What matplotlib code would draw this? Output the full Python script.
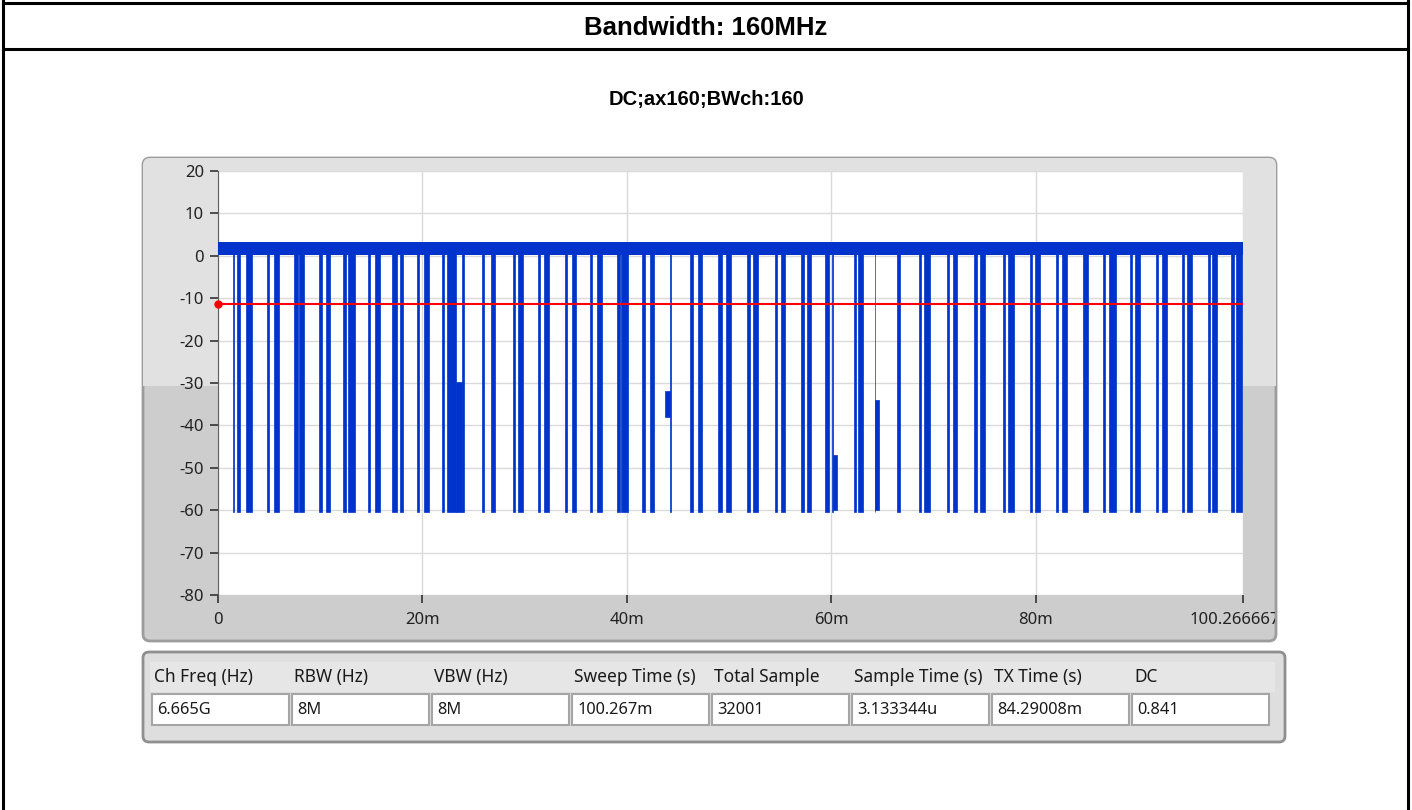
import matplotlib
matplotlib.use("Agg")
import matplotlib.pyplot as plt
from matplotlib.patches import FancyBboxPatch, Rectangle
from matplotlib.lines import Line2D
from matplotlib.transforms import Bbox, TransformedBbox, IdentityTransform

plt.rcParams["axes.unicode_minus"] = False

W, H = 1412, 810

page_title = "Bandwidth: 160MHz"
graph_title = "DC;ax160;BWch:160"

# trace, time in ms, level in dB
sweep_ms = 100.266667
threshold_db = -11.3
on_low, on_high = 0.2, 3.3
floor_db = -60.5

# bursts off: full drop to the noise floor
gap_start = [1.42, 1.83, 2.71, 4.76, 5.51, 7.47, 7.96, 9.88, 10.54, 12.26, 12.75, 14.71, 15.36,
             17.06, 17.81, 19.50, 20.16, 21.95, 22.41, 23.90, 25.80, 26.68, 28.90, 29.32, 31.28,
             31.93, 33.95, 34.67, 36.40, 37.05, 39.00, 39.40, 41.52, 42.27, 44.20, 46.18, 46.93,
             48.95, 49.70, 51.73, 52.38, 54.44, 55.09, 57.05, 57.66, 59.39, 60.05, 62.17, 62.65,
             64.22, 66.40, 68.60, 69.10, 71.30, 71.85, 74.00, 74.50, 76.80, 77.30, 79.40, 79.90,
             82.00, 82.55, 84.60, 86.60, 87.20, 89.20, 89.70, 91.80, 92.30, 94.30, 94.80, 96.80,
             97.20, 99.10, 99.60]
gap_end = [1.59, 2.18, 3.30, 4.99, 6.00, 7.80, 8.38, 10.21, 10.96, 12.49, 13.41, 14.91, 15.85,
           17.48, 18.13, 19.70, 20.68, 22.14, 23.30, 24.02, 26.00, 27.10, 29.06, 29.87, 31.54,
           32.39, 34.15, 35.00, 36.56, 37.54, 39.33, 40.09, 41.78, 42.69, 44.35, 46.50, 47.31,
           49.28, 50.20, 52.05, 52.81, 54.73, 55.48, 57.37, 58.02, 59.78, 60.15, 62.40, 63.14,
           64.30, 66.73, 68.80, 69.60, 71.50, 72.30, 74.20, 75.00, 77.00, 77.90, 79.60, 80.40,
           82.20, 83.05, 85.15, 86.80, 87.80, 89.40, 90.20, 92.00, 92.80, 94.50, 95.30, 97.00,
           97.70, 99.35, 100.20]

# partial drops
part_start = [23.30, 43.70, 60.15, 64.30]
part_end = [23.90, 44.20, 60.55, 64.70]
part_top = [-29.7, -32.0, -47.0, -34.0]
part_bottom = [-60.5, -38.0, -60.0, -60.0]

x_ticks = [0, 20, 40, 60, 80, 100.266667]
x_tick_labels = ["0", "20m", "40m", "60m", "80m", "100.266667m"]
y_ticks = list(range(-80, 21, 10))

info_labels = ["Ch Freq (Hz)", "RBW (Hz)", "VBW (Hz)", "Sweep Time (s)", "Total Sample",
               "Sample Time (s)", "TX Time (s)", "DC"]
info_values = ["6.665G", "8M", "8M", "100.267m", "32001", "3.133344u", "84.29008m", "0.841"]

blue = "#0033cc"
ui_font = ["Noto Sans", "DejaVu Sans"]

fig = plt.figure(figsize=(W / 100, H / 100), dpi=100)
fig.patch.set_facecolor("white")
px = IdentityTransform()


def box(x0, y0, x1, y1, **kw):
    # pixel coords from top-left
    kw.setdefault("transform", px)
    return Rectangle((x0, H - y1), x1 - x0, y1 - y0, **kw)


def rbox(x0, y0, x1, y1, r, **kw):
    return FancyBboxPatch((x0, H - y1), x1 - x0, y1 - y0,
                          boxstyle=f"round,pad=0,rounding_size={r}", transform=px, **kw)


# page frame
for line in [((3, 3), (0, H)), ((1408, 1408), (0, H)), ((3, 1408), (H - 3, H - 3)),
             ((3, 1408), (H - 49, H - 49))]:
    fig.add_artist(Line2D(line[0], line[1], transform=px, color="black", lw=2.2))

fig.text(0.5, 1 - 28 / H, page_title, ha="center", va="center", fontsize=18.5,
         fontweight="bold", family="Liberation Sans")
fig.text(0.5, 1 - 100 / H, graph_title, ha="center", va="center", fontsize=14.5,
         fontweight="bold", family="Liberation Sans")

# graph panel
panel = rbox(143, 158, 1276, 641, 7, facecolor="#cdcdcd", edgecolor="#9c9c9c", lw=2, zorder=-5)
fig.add_artist(panel)
upper = box(143, 158, 1276, 386, facecolor="#e1e1e1", lw=0, zorder=-4)
fig.add_artist(upper)
upper.set_clip_path(panel)

ax = fig.add_axes([218 / W, 1 - 595 / H, (1243 - 218) / W, (595 - 171) / H], zorder=1)
ax.set_facecolor("white")
ax.set_xlim(0, sweep_ms)
ax.set_ylim(-80, 20)
for s in ["top", "right", "bottom"]:
    ax.spines[s].set_visible(False)
ax.spines["left"].set_color("#606060")
ax.grid(True, color="#dadada", lw=1)
ax.set_axisbelow(True)

ax.set_yticks(y_ticks)
ax.set_xticks(x_ticks)
ax.set_xticklabels(x_tick_labels)
ax.tick_params(axis="y", length=6, width=1.2, color="#333333", pad=4, labelsize=12,
               labelcolor="#222222")
ax.tick_params(axis="x", length=6, width=1.2, color="#333333", pad=6, labelsize=12,
               labelcolor="#222222")
for lbl in ax.get_xticklabels() + ax.get_yticklabels():
    lbl.set_family(ui_font)

# trace
ax.fill_between([0, sweep_ms], on_low, on_high, color=blue, lw=0, zorder=3)
widths = [e - s for s, e in zip(gap_start, gap_end)]
ax.bar(gap_start, on_high - floor_db, width=widths, bottom=floor_db, align="edge",
       color=blue, edgecolor=blue, lw=0.5, zorder=3)
pw = [e - s for s, e in zip(part_start, part_end)]
ph = [t - b for t, b in zip(part_top, part_bottom)]
ax.bar(part_start, ph, width=pw, bottom=part_bottom, align="edge",
       color=blue, edgecolor=blue, lw=0.5, zorder=3)

ax.axhline(threshold_db, color="#ff0000", lw=1.5, zorder=4)
ax.plot([0], [threshold_db], "o", color="#ff0000", ms=5, clip_on=False, zorder=5)

clip = TransformedBbox(Bbox.from_extents(0, 0, 1275, H), px)
for lbl in ax.get_xticklabels():
    lbl.set_clip_box(clip)
    lbl.set_clip_on(True)

# info table
fig.add_artist(rbox(143, 652, 1285, 742, 6, facecolor="#dedede", edgecolor="#8f8f8f", lw=2,
                    zorder=-5))
fig.add_artist(box(150, 662, 1275, 692, facecolor="#e6e6e6", lw=0, zorder=-4))
for i, (lab, val) in enumerate(zip(info_labels, info_values)):
    x0 = 152 + i * 140
    fig.add_artist(box(x0, 694, x0 + 137, 725, facecolor="white", edgecolor="#a5a5a5", lw=1.5,
                       zorder=-3))
    fig.text((x0 + 2) / W, 1 - 677 / H, lab, ha="left", va="center", fontsize=12.5,
             family=ui_font, color="#1a1a1a")
    fig.text((x0 + 5) / W, 1 - 710 / H, val, ha="left", va="center", fontsize=11.8,
             family=ui_font, color="#1a1a1a")

fig.savefig("out.png", dpi=100)
